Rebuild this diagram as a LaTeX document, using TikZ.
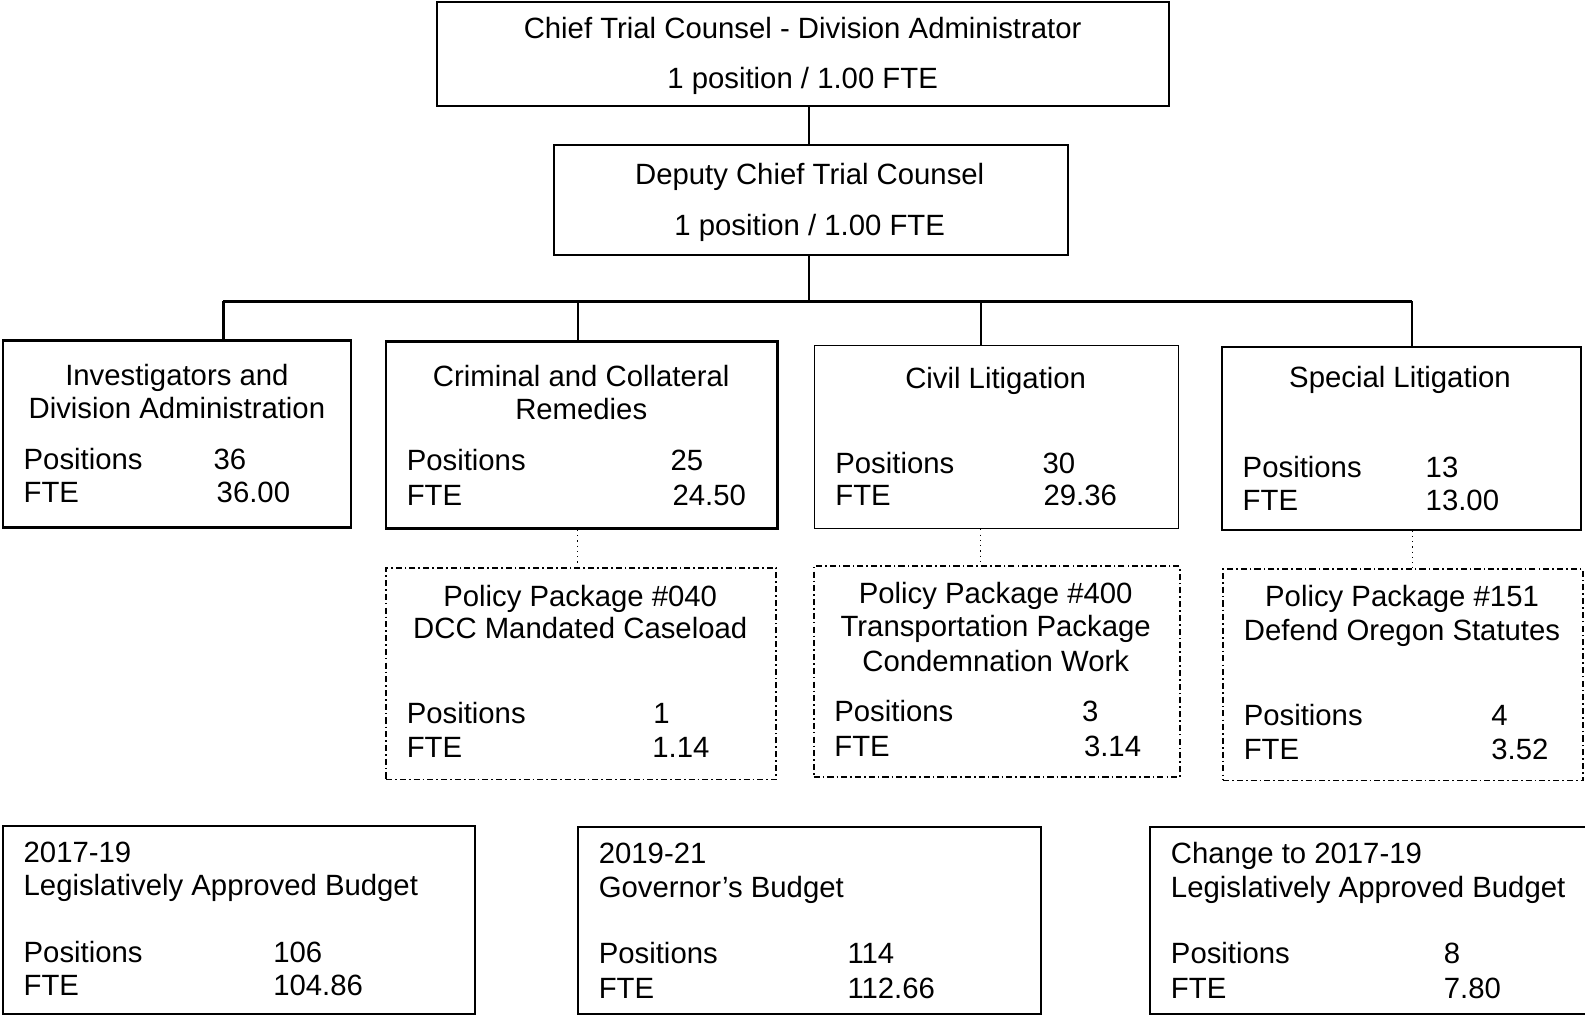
\documentclass[tikz,border=0pt]{standalone}
\usepackage{fontspec}
\setmainfont{Liberation Sans}
\begin{document}
\begin{tikzpicture}[x=0.5pt,y=-0.5pt,
  box/.style={draw, line width=1pt, inner sep=0pt},
  thinbox/.style={draw, line width=0.6pt, inner sep=0pt},
  pkgbox/.style={draw, line width=0.85pt, inner sep=0pt, dash pattern=on 3pt off 1.5pt on 0.8pt off 1.5pt},
  txt/.style={inner sep=0pt, font=\fontsize{14.5}{17}\selectfont},
  ct/.style={txt, anchor=base},
  lt/.style={txt, anchor=base west},
  conn/.style={line width=1pt},
  bus/.style={line width=1.5pt},
  dotconn/.style={line width=0.6pt, dotted}]
\useasboundingbox (0,0) rectangle (1568,1005);
\fill[white] (0,0) rectangle (1568,1005);
% boxes
\node[box, minimum width=362pt, minimum height=51.5pt] (top) at (794,53.5) {};
\node[box, minimum width=254.5pt, minimum height=54.5pt] (dep) at (802.5,197.5) {};
\node[box, line width=1.2pt, minimum width=172pt, minimum height=92.5pt] (inv) at (175,429.5) {};
\node[box, line width=1.2pt, minimum width=193.5pt, minimum height=92.5pt] (crim) at (575.5,430.5) {};
\node[thinbox, minimum width=180pt, minimum height=90.5pt] (civ) at (986,432.5) {};
\node[box, minimum width=177.5pt, minimum height=90.5pt] (spec) at (1386.5,433.5) {};
\node[pkgbox, minimum width=193pt, minimum height=104.5pt] (pa) at (575,666.5) {};
\node[pkgbox, minimum width=181pt, minimum height=104.5pt] (pb) at (986,664.5) {};
\node[pkgbox, minimum width=178pt, minimum height=104.5pt] (pc) at (1388,667.5) {};
\node[box, line width=0.9pt, minimum width=233.5pt, minimum height=93pt] (b1) at (236.5,910) {};
\node[box, line width=0.9pt, minimum width=229pt, minimum height=92.5pt] (b2) at (801,910.5) {};
\node[box, line width=0.9pt, minimum width=218pt, minimum height=92.5pt] (b3) at (1356,910.5) {};
% connectors
\coordinate (busL) at (221,298);
\coordinate (busR) at (1397,298);
\coordinate (trunk) at (800,298);
\draw[conn] (trunk |- top.south) -- (trunk |- dep.north);
\draw[conn] (trunk |- dep.south) -- (trunk);
\draw[bus] (busL) -- (busR);
\draw[bus] (busL) -- (busL |- inv.north);
\draw[conn] (crim.north) ++(-3.5,0) coordinate (cn) -- (cn |- busL);
\draw[conn] (970,298) coordinate (cv) -- (cv |- civ.north);
\draw[conn] (busR) -- (busR |- spec.north);
\draw[dotconn] (571,0 |- crim.south) coordinate (d1) -- (d1 |- pa.north);
\draw[dotconn] (970,0 |- civ.south) coordinate (d2) -- (d2 |- pb.north);
\draw[dotconn] (1397,0 |- spec.south) coordinate (d3) -- (d3 |- pc.north);
% texts
\node[ct] (t1) at (794,38) {Chief Trial Counsel - Division Administrator};
\node[ct] (t2) at (794,88) {1 position / 1.00 FTE};
\node[ct] (t3) at (801,183) {Deputy Chief Trial Counsel};
\node[ct] (t4) at (801,233) {1 position / 1.00 FTE};
% inv
\node[ct] (i1) at (175,381) {Investigators and};
\node[ct] (i2) at (175,414) {Division Administration};
\node[lt] (i3) at (23,464) {Positions};
\node[lt] (i4) at (211,464) {36};
\node[lt] (i5) at (23,497) {FTE};
\node[lt] (i6) at (214,497) {36.00};
% crim
\node[ct] (c1) at (575,382) {Criminal and Collateral};
\node[ct] (c2) at (575,415) {Remedies};
\node[lt] (c3) at (402,465) {Positions};
\node[lt] (c4) at (663,465) {25};
\node[lt] (c5) at (402,500) {FTE};
\node[lt] (c6) at (665,500) {24.50};
% civ
\node[ct] (v1) at (985,384) {Civil Litigation};
\node[lt] (v3) at (826,468) {Positions};
\node[lt] (v4) at (1031,468) {30};
\node[lt] (v5) at (826,500) {FTE};
\node[lt] (v6) at (1032,500) {29.36};
% spec
\node[ct] (s1) at (1385,383) {Special Litigation};
\node[lt] (s3) at (1229,472) {Positions};
\node[lt] (s4) at (1410,472) {13};
\node[lt] (s5) at (1229,505) {FTE};
\node[lt] (s6) at (1410,505) {13.00};
% pa
\node[ct] (a1) at (574,600) {Policy Package \#040};
\node[ct] (a2) at (574,632) {DCC Mandated Caseload};
\node[lt] (a3) at (402,716) {Positions};
\node[lt] (a4) at (646,716) {1};
\node[lt] (a5) at (402,749) {FTE};
\node[lt] (a6) at (645,749) {1.14};
% pb
\node[ct] (p1) at (985,597) {Policy Package \#400};
\node[ct] (p2) at (985,630) {Transportation Package};
\node[ct] (p7) at (985,664) {Condemnation Work};
\node[lt] (p3) at (825,714) {Positions};
\node[lt] (p4) at (1070,714) {3};
\node[lt] (p5) at (825,748) {FTE};
\node[lt] (p6) at (1072,748) {3.14};
% pc
\node[ct] (q1) at (1387,600) {Policy Package \#151};
\node[ct] (q2) at (1387,634) {Defend Oregon Statutes};
\node[lt] (q3) at (1230,718) {Positions};
\node[lt] (q4) at (1475,718) {4};
\node[lt] (q5) at (1230,751) {FTE};
\node[lt] (q6) at (1475,751) {3.52};
% b1
\node[lt] (x1) at (23,853) {2017-19};
\node[lt] (x2) at (23,886) {Legislatively Approved Budget};
\node[lt] (x3) at (23,952) {Positions};
\node[lt] (x4) at (270,952) {106};
\node[lt] (x5) at (23,985) {FTE};
\node[lt] (x6) at (270,985) {104.86};
% b2
\node[lt] (y1) at (592,854) {2019-21};
\node[lt] (y2) at (592,888) {Governor’s Budget};
\node[lt] (y3) at (592,953) {Positions};
\node[lt] (y4) at (838,953) {114};
\node[lt] (y5) at (592,988) {FTE};
\node[lt] (y6) at (838,988) {112.66};
% b3
\node[lt] (z1) at (1158,854) {Change to 2017-19};
\node[lt] (z2) at (1158,888) {Legislatively Approved Budget};
\node[lt] (z3) at (1158,953) {Positions};
\node[lt] (z4) at (1428,953) {8};
\node[lt] (z5) at (1158,988) {FTE};
\node[lt] (z6) at (1428,988) {7.80};
\end{tikzpicture}
\end{document}
